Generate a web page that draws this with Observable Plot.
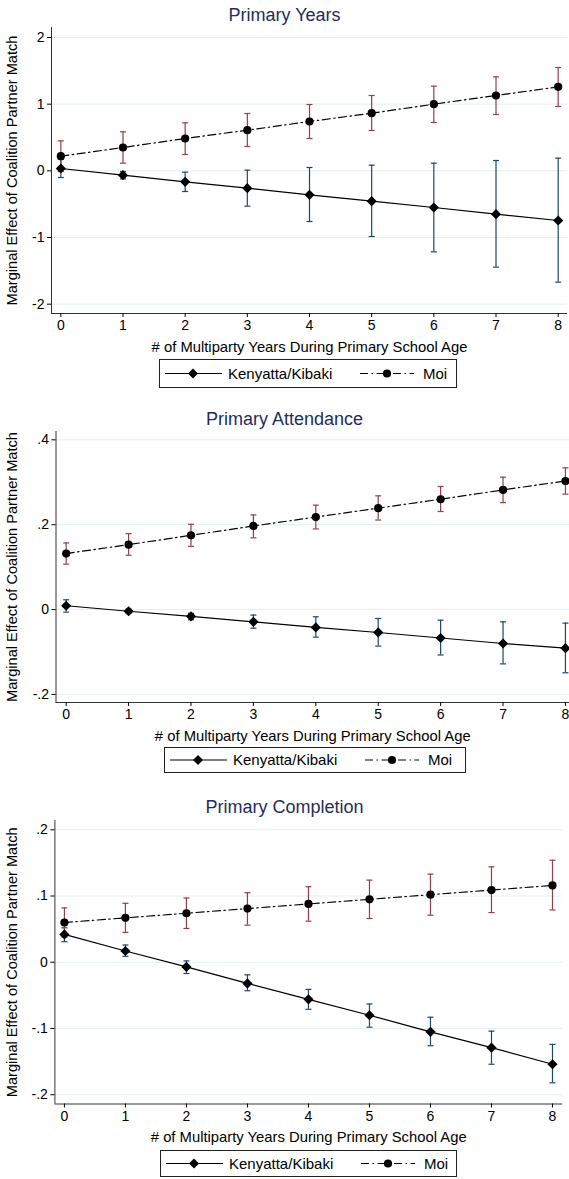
<!DOCTYPE html>
<html><head><meta charset="utf-8">
<script src="https://cdn.jsdelivr.net/npm/d3@7"></script>
<script src="https://cdn.jsdelivr.net/npm/@observablehq/plot@0.6"></script>
<style>
body{margin:0;background:#fff;font-family:"Liberation Sans",Arial,Helvetica,sans-serif;}
#root{position:relative;width:569px;height:1179px;overflow:hidden;background:#fff;}
.title{position:absolute;left:0;width:569px;text-align:center;font-size:18px;color:#1e2d5c;line-height:20px;}
.panel{position:absolute;left:0;}
.legend{position:absolute;border:1px solid #222;background:#fff;box-sizing:border-box;font-size:15px;color:#000;}
.legend span{position:absolute;white-space:nowrap;}
.legend svg{position:absolute;left:0;top:0;}
</style>
</head><body><div id="root"></div>
<script>
// ---------- data ----------
const years = [0, 1, 2, 3, 4, 5, 6, 7, 8];
const seriesNames = ["Kenyatta/Kibaki", "Moi"];
const panelTitles = ["Primary Years", "Primary Attendance", "Primary Completion"];
const xAxisTitle = "# of Multiparty Years During Primary School Age";
const yAxisTitle = "Marginal Effect of Coalition Partner Match";

// Primary Years
const pyKenyatta   = [0.035, -0.065, -0.165, -0.26, -0.36, -0.455, -0.55, -0.65, -0.745];
const pyKenyattaLo = [-0.10, -0.12, -0.31, -0.53, -0.76, -0.985, -1.215, -1.445, -1.67];
const pyKenyattaHi = [0.17, -0.01, -0.02, 0.01, 0.05, 0.085, 0.115, 0.155, 0.19];
const pyMoi   = [0.22, 0.35, 0.485, 0.61, 0.74, 0.865, 1.0, 1.13, 1.26];
const pyMoiLo = [-0.01, 0.115, 0.245, 0.365, 0.485, 0.605, 0.725, 0.845, 0.965];
const pyMoiHi = [0.45, 0.585, 0.72, 0.86, 0.995, 1.13, 1.27, 1.41, 1.55];
const pyTicks = [-2, -1, 0, 1, 2];
const pyTickLabels = ["-2", "-1", "0", "1", "2"];

// Primary Attendance
const paKenyatta   = [0.009, -0.004, -0.016, -0.029, -0.042, -0.054, -0.067, -0.080, -0.091];
const paKenyattaLo = [-0.006, -0.009, -0.024, -0.044, -0.065, -0.086, -0.107, -0.128, -0.149];
const paKenyattaHi = [0.023, 0.001, -0.009, -0.013, -0.017, -0.021, -0.025, -0.029, -0.032];
const paMoi   = [0.132, 0.153, 0.175, 0.197, 0.218, 0.239, 0.260, 0.282, 0.303];
const paMoiLo = [0.107, 0.128, 0.149, 0.169, 0.190, 0.211, 0.231, 0.252, 0.272];
const paMoiHi = [0.157, 0.179, 0.201, 0.223, 0.246, 0.268, 0.290, 0.312, 0.334];
const paTicks = [-0.2, 0, 0.2, 0.4];
const paTickLabels = ["-.2", "0", ".2", ".4"];

// Primary Completion
const pcKenyatta   = [0.042, 0.017, -0.007, -0.032, -0.056, -0.080, -0.105, -0.129, -0.154];
const pcKenyattaLo = [0.031, 0.009, -0.017, -0.043, -0.071, -0.098, -0.126, -0.154, -0.182];
const pcKenyattaHi = [0.052, 0.026, 0.002, -0.019, -0.041, -0.063, -0.083, -0.104, -0.124];
const pcMoi   = [0.060, 0.067, 0.074, 0.081, 0.088, 0.095, 0.102, 0.109, 0.116];
const pcMoiLo = [0.038, 0.045, 0.051, 0.056, 0.062, 0.066, 0.071, 0.075, 0.079];
const pcMoiHi = [0.082, 0.089, 0.097, 0.105, 0.114, 0.124, 0.133, 0.144, 0.154];
const pcTicks = [-0.2, -0.1, 0, 0.1, 0.2];
const pcTickLabels = ["-.2", "-.1", "0", ".1", ".2"];

// ---------- build ----------
const KK_COLOR = "#1a476f", MOI_COLOR = "#953e46";
const MOI_DASH = "8,3.5,1.5,3.5";
const capSymbol = {draw(ctx, size){ const w = Math.sqrt(size / Math.PI); ctx.moveTo(-w, 0); ctx.lineTo(w, 0); }};

function rows(est, lo, hi){ return years.map((x, i) => ({x, est: est[i], lo: lo[i], hi: hi[i]})); }

const panels = [
  {title: panelTitles[0], kk: rows(pyKenyatta, pyKenyattaLo, pyKenyattaHi), moi: rows(pyMoi, pyMoiLo, pyMoiHi),
   ticks: pyTicks, labels: pyTickLabels, titleY: 5, frameTop: 27, frameBottom: 313, left: 51, right: 567,
   xdom: [-0.15, 8.15], ydom: [-2.14, 2.15], legend: {left: 159, top: 359, width: 298, height: 29}},
  {title: panelTitles[1], kk: rows(paKenyatta, paKenyattaLo, paKenyattaHi), moi: rows(paMoi, paMoiLo, paMoiHi),
   ticks: paTicks, labels: paTickLabels, titleY: 409, frameTop: 431, frameBottom: 702, left: 55.5, right: 569,
   xdom: [-0.163, 8.065], ydom: [-0.219, 0.4196], legend: {left: 164, top: 747, width: 302, height: 26}},
  {title: panelTitles[2], kk: rows(pcKenyatta, pcKenyattaLo, pcKenyattaHi), moi: rows(pcMoi, pcMoiLo, pcMoiHi),
   ticks: pcTicks, labels: pcTickLabels, titleY: 797, frameTop: 820, frameBottom: 1103.5, left: 54.4, right: 562,
   xdom: [-0.156, 8.164], ydom: [-0.214, 0.214], legend: {left: 160, top: 1150, width: 297, height: 27}}
];

const root = document.getElementById("root");

for (const p of panels) {
  const t = document.createElement("div");
  t.className = "title"; t.style.top = p.titleY + "px"; t.textContent = p.title;
  root.appendChild(t);

  const mt = 8, mb = 44;
  const chart = Plot.plot({
    width: 569,
    height: (p.frameBottom - p.frameTop) + mt + mb,
    marginTop: mt, marginBottom: mb, marginLeft: p.left, marginRight: 569 - p.right,
    style: {fontFamily: '"Liberation Sans", Arial, sans-serif', fontSize: "14px", color: "#000", background: "transparent"},
    x: {domain: p.xdom},
    y: {domain: p.ydom},
    marks: [
      Plot.gridY(p.ticks, {stroke: "#e4eeef", strokeOpacity: 1, strokeWidth: 1}),
      Plot.ruleX([p.xdom[0]], {stroke: "#333", strokeWidth: 1}),
      Plot.ruleY([p.ydom[0]], {stroke: "#333", strokeWidth: 1}),
      Plot.axisY({ticks: p.ticks, tickFormat: d => p.labels[p.ticks.indexOf(d)], tickSize: 4, tickPadding: 3,
        fontSize: 14, label: null}),
      Plot.axisY({ticks: [], fontSize: 14.6, label: yAxisTitle, labelAnchor: "center", labelArrow: "none", labelOffset: p.left - 6}),
      Plot.axisX({ticks: years, tickFormat: d => String(d), tickSize: 4, tickPadding: 3, fontSize: 14, label: null}),
      Plot.axisX({ticks: [], fontSize: 14.8, label: xAxisTitle, labelAnchor: "center", labelArrow: "none", labelOffset: 38}),
      // confidence intervals
      Plot.ruleX(p.kk, {x: "x", y1: "lo", y2: "hi", stroke: KK_COLOR, strokeWidth: 1.2}),
      Plot.dot(p.kk, {x: "x", y: "lo", symbol: capSymbol, r: 3, fill: "none", stroke: KK_COLOR, strokeWidth: 1.2}),
      Plot.dot(p.kk, {x: "x", y: "hi", symbol: capSymbol, r: 3, fill: "none", stroke: KK_COLOR, strokeWidth: 1.2}),
      Plot.ruleX(p.moi, {x: "x", y1: "lo", y2: "hi", stroke: MOI_COLOR, strokeWidth: 1.2}),
      Plot.dot(p.moi, {x: "x", y: "lo", symbol: capSymbol, r: 3, fill: "none", stroke: MOI_COLOR, strokeWidth: 1.2}),
      Plot.dot(p.moi, {x: "x", y: "hi", symbol: capSymbol, r: 3, fill: "none", stroke: MOI_COLOR, strokeWidth: 1.2}),
      // estimates
      Plot.line(p.kk, {x: "x", y: "est", stroke: "#000", strokeWidth: 1.2}),
      Plot.line(p.moi, {x: "x", y: "est", stroke: "#000", strokeWidth: 1.2, strokeDasharray: MOI_DASH}),
      Plot.dot(p.kk, {x: "x", y: "est", symbol: "diamond2", r: 4.6, fill: "#000", stroke: "none"}),
      Plot.dot(p.moi, {x: "x", y: "est", symbol: "circle", r: 4.1, fill: "#000", stroke: "none"})
    ]
  });
  chart.classList.add("panel");
  chart.style.top = (p.frameTop - mt) + "px";
  root.appendChild(chart);

  // legend
  const L = p.legend;
  const lg = document.createElement("div");
  lg.className = "legend";
  Object.assign(lg.style, {left: L.left + "px", top: L.top + "px", width: L.width + "px", height: L.height + "px"});
  const cy = (L.height - 2) / 2;
  lg.innerHTML = `<svg width="${L.width}" height="${L.height}">
    <line x1="5" x2="62" y1="${cy}" y2="${cy}" stroke="#000" stroke-width="1.2"/>
    <path d="M33,${cy - 5}L38,${cy}L33,${cy + 5}L28,${cy}Z" fill="#000"/>
    <line x1="200" x2="254" y1="${cy}" y2="${cy}" stroke="#000" stroke-width="1.2" stroke-dasharray="${MOI_DASH}"/>
    <circle cx="227" cy="${cy}" r="4.1" fill="#000"/>
  </svg>
  <span style="left:68px;top:${cy - 9}px">${seriesNames[0]}</span>
  <span style="left:263px;top:${cy - 9}px">${seriesNames[1]}</span>`;
  root.appendChild(lg);
}
</script>
</body></html>
